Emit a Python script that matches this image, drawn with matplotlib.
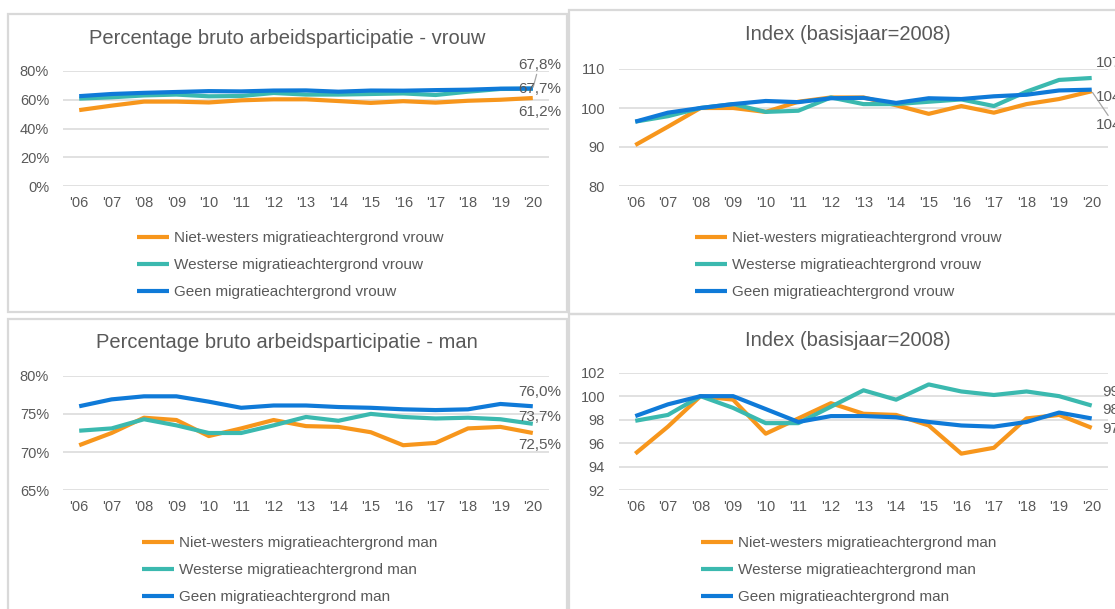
import matplotlib
matplotlib.use("Agg")
import matplotlib.pyplot as plt
from matplotlib.patches import Rectangle
from matplotlib.ticker import FuncFormatter

plt.rcParams['font.family'] = ['Liberation Sans', 'DejaVu Sans']

W, H = 1115, 609
TXT = '#595959'
GRID = '#D9D9D9'
C_NW = '#F7961C'
C_W = '#3BB9AF'
C_G = '#0F7AD8'

years = ["'06", "'07", "'08", "'09", "'10", "'11", "'12", "'13", "'14", "'15", "'16", "'17", "'18", "'19", "'20"]

vrouw_pct_nw = [52.8, 55.9, 58.7, 58.7, 58.1, 59.6, 60.3, 60.3, 59.1, 57.8, 59.0, 58.0, 59.3, 60.0, 61.2]
vrouw_pct_w = [60.8, 61.7, 63.0, 63.6, 62.4, 62.6, 64.7, 63.6, 63.6, 64.0, 64.4, 63.3, 65.6, 67.5, 67.7]
vrouw_pct_geen = [62.5, 64.0, 64.8, 65.4, 66.0, 65.8, 66.4, 66.5, 65.6, 66.4, 66.3, 66.7, 67.0, 67.7, 67.8]

vrouw_idx_nw = [90.5, 95.2, 100, 100, 99.0, 101.6, 102.7, 102.7, 100.7, 98.5, 100.5, 98.8, 101.0, 102.3, 104.3]
vrouw_idx_w = [96.5, 97.9, 100, 101.0, 99.0, 99.3, 102.7, 101.0, 101.0, 101.6, 102.2, 100.5, 104.2, 107.2, 107.7]
vrouw_idx_geen = [96.5, 98.8, 100, 101.0, 101.8, 101.5, 102.5, 102.6, 101.3, 102.5, 102.3, 103.0, 103.4, 104.5, 104.7]

man_pct_nw = [70.9, 72.5, 74.5, 74.2, 72.1, 73.1, 74.2, 73.4, 73.3, 72.6, 70.9, 71.2, 73.1, 73.3, 72.5]
man_pct_w = [72.8, 73.1, 74.3, 73.5, 72.5, 72.5, 73.5, 74.6, 74.1, 75.0, 74.6, 74.4, 74.5, 74.3, 73.7]
man_pct_geen = [76.0, 76.9, 77.3, 77.3, 76.6, 75.8, 76.1, 76.1, 75.9, 75.8, 75.6, 75.5, 75.6, 76.3, 76.0]

man_idx_nw = [95.1, 97.4, 100, 99.7, 96.8, 98.1, 99.4, 98.5, 98.4, 97.5, 95.1, 95.6, 98.1, 98.4, 97.3]
man_idx_w = [97.9, 98.4, 100, 99.0, 97.7, 97.7, 99.1, 100.5, 99.7, 101.0, 100.4, 100.1, 100.4, 100.0, 99.2]
man_idx_geen = [98.3, 99.3, 100, 100, 98.9, 97.8, 98.3, 98.3, 98.2, 97.8, 97.5, 97.4, 97.8, 98.6, 98.1]

leg_vrouw = ['Niet-westers migratieachtergrond vrouw', 'Westerse migratieachtergrond vrouw', 'Geen migratieachtergrond vrouw']
leg_man = ['Niet-westers migratieachtergrond man', 'Westerse migratieachtergrond man', 'Geen migratieachtergrond man']

fig = plt.figure(figsize=(W / 100, H / 100), dpi=100)


def rect(x0, y0, x1, y1):
    return [x0 / W, 1 - y1 / H, (x1 - x0) / W, (y1 - y0) / H]


def border(x0, y0, x1, y1):
    fig.patches.append(Rectangle((x0 / W, 1 - y1 / H), (x1 - x0) / W, (y1 - y0) / H,
                                 transform=fig.transFigure, fill=False,
                                 edgecolor='#D9D9D9', lw=1.6, zorder=0))


border(7.5, 14, 566.7, 312)
border(568.5, 10, 1125, 314)
border(7.5, 319, 566.7, 625)
border(568.5, 314, 1125, 625)


def panel(box, series, ylim, yticks, fmt, title, title_xy, legend_labels, leg_xy, labels):
    ax = fig.add_axes(rect(*box))
    x = list(range(len(years)))
    handles = []
    for vals, col, lab in zip(series, [C_NW, C_W, C_G], legend_labels):
        h, = ax.plot(x, vals, color=col, lw=3.0, solid_joinstyle='round', solid_capstyle='butt', label=lab, zorder=3)
        handles.append(h)
    ax.set_xlim(-0.5, len(years) - 0.5)
    ax.set_ylim(*ylim)
    ax.set_yticks(yticks)
    ax.yaxis.set_major_formatter(FuncFormatter(fmt))
    ax.set_xticks(x)
    ax.set_xticklabels(years)
    ax.grid(axis='y', color=GRID, lw=1.1, zorder=0)
    ax.set_axisbelow(True)
    for s in ax.spines.values():
        s.set_visible(False)
    ax.tick_params(axis='both', length=0, labelsize=10.5, colors=TXT)
    ax.tick_params(axis='y', pad=10)
    ax.tick_params(axis='x', pad=7)
    fig.text(title_xy[0] / W, 1 - title_xy[1] / H, title, ha='center', va='center',
             fontsize=14.5, color=TXT)
    leg = ax.legend(handles=handles, loc='upper left',
                    bbox_to_anchor=(leg_xy[0] / W, 1 - leg_xy[1] / H),
                    bbox_transform=fig.transFigure, frameon=False, borderpad=0,
                    borderaxespad=0, handlelength=2.1, handletextpad=0.3,
                    labelspacing=0.86, fontsize=11)
    for t in leg.get_texts():
        t.set_color(TXT)
    for (text, val, dx, dy, lead) in labels:
        kw = {}
        if lead:
            kw['arrowprops'] = dict(arrowstyle='-', color='#A6A6A6', lw=0.9, shrinkA=0, shrinkB=1)
        ax.annotate(text, xy=(len(years) - 1, val), xytext=(dx, dy), textcoords='offset pixels',
                    ha='left', va='center', fontsize=11, color=TXT, annotation_clip=False, **kw)
    return ax


pct = lambda v, p: f'{v:.0f}%'
num = lambda v, p: f'{v:.0f}'

panel((63, 71, 549, 186), [vrouw_pct_nw, vrouw_pct_w, vrouw_pct_geen], (0, 80), [0, 20, 40, 60, 80], pct,
      'Percentage bruto arbeidsparticipatie - vrouw', (287, 38), leg_vrouw, (137, 231),
      [('67,8%', vrouw_pct_geen[-1], -15, 24, True), ('67,7%', vrouw_pct_w[-1], -15, 0, False),
       ('61,2%', vrouw_pct_nw[-1], -15, -14, False)])

panel((619, 69, 1108, 186), [vrouw_idx_nw, vrouw_idx_w, vrouw_idx_geen], (80, 110), [80, 90, 100, 110], num,
      'Index (basisjaar=2008)', (848, 35), leg_vrouw, (695, 231),
      [('107,7', vrouw_idx_w[-1], 4, 15, False), ('104,7', vrouw_idx_geen[-1], 4, -7, False),
       ('104,3', vrouw_idx_nw[-1], 4, -34, True)])

panel((63, 375.7, 549, 490.3), [man_pct_nw, man_pct_w, man_pct_geen], (65, 80), [65, 70, 75, 80], pct,
      'Percentage bruto arbeidsparticipatie - man', (287, 343), leg_man, (142, 536),
      [('76,0%', man_pct_geen[-1], -15, 14, False), ('73,7%', man_pct_w[-1], -15, 7, False),
       ('72,5%', man_pct_nw[-1], -15, -12, False)])

panel((619, 372.7, 1108, 490), [man_idx_nw, man_idx_w, man_idx_geen], (92, 102), [92, 94, 96, 98, 100, 102], num,
      'Index (basisjaar=2008)', (848, 341), leg_man, (701, 536),
      [('99,2', man_idx_w[-1], 11, 14, False), ('98,1', man_idx_geen[-1], 11, 8, False),
       ('97,3', man_idx_nw[-1], 11, -1, False)])

fig.savefig('out.png', dpi=100)
